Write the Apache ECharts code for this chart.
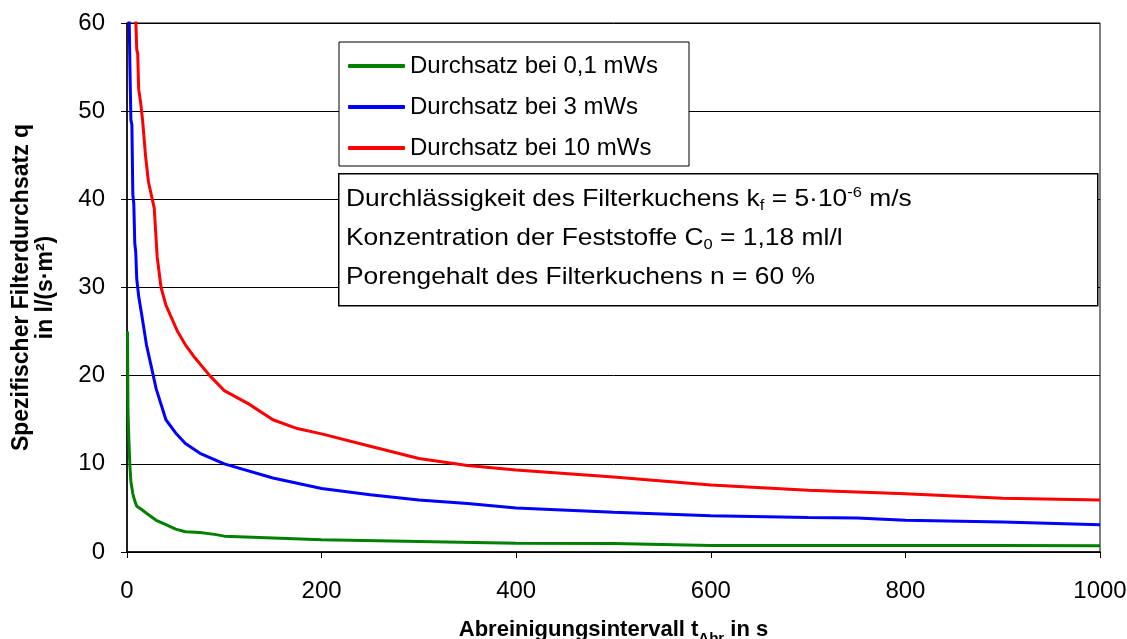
<!DOCTYPE html>
<html><head><meta charset="utf-8">
<script src="https://cdn.jsdelivr.net/npm/echarts@6/dist/echarts.min.js"></script>
<style>html,body{margin:0;padding:0;background:#fff}#c{width:1127px;height:639px}</style>
</head><body><div id="c"></div>
<script>
const seriesNames = ['Durchsatz bei 0,1 mWs', 'Durchsatz bei 3 mWs', 'Durchsatz bei 10 mWs'];
const xTicks = [0, 200, 400, 600, 800, 1000];
const yTicks = [0, 10, 20, 30, 40, 50, 60];

const greenT = [0.5, 1, 2, 3, 4, 6, 8, 10, 14, 20, 30, 40, 50, 60, 75, 90, 100, 150, 200, 300, 400, 500, 600, 700, 800, 900, 1000];
const greenQ = [25, 16, 12.5, 9.7, 8, 6.6, 5.8, 5.2, 4.9, 4.4, 3.6, 3.1, 2.6, 2.3, 2.2, 2.0, 1.8, 1.6, 1.4, 1.2, 1.0, 0.95, 0.75, 0.75, 0.75, 0.75, 0.7];

const blueT = [1, 2, 3, 4, 5, 6, 7, 8, 9, 10, 12, 15, 20, 27, 30, 40, 50, 60, 75, 100, 150, 200, 250, 300, 350, 400, 500, 600, 700, 750, 800, 900, 1000];
const blueQ = [75, 62, 55, 49, 48.5, 40.5, 39.5, 35, 34, 31, 29, 27, 23.5, 20, 18.5, 15, 13.5, 12.3, 11.2, 10, 8.4, 7.2, 6.5, 5.9, 5.5, 5.0, 4.5, 4.1, 3.9, 3.85, 3.6, 3.4, 3.1];

const redT = [5, 8, 9, 10, 11, 12, 14, 16, 19, 22, 26, 28, 31, 35, 40, 46, 52, 60, 70, 85, 100, 125, 150, 175, 200, 250, 300, 350, 400, 450, 500, 600, 700, 800, 900, 1000];
const redQ = [75, 62, 60.5, 57, 56.5, 52.5, 51, 49, 45, 42, 40, 39, 33.5, 30, 28, 26.5, 25, 23.5, 22, 20, 18.3, 16.8, 15, 14, 13.4, 12, 10.6, 9.8, 9.3, 8.9, 8.5, 7.6, 7.0, 6.6, 6.1, 5.9];

const colors = ['#008000', '#0000ff', '#ff0000'];
const pair = (t, q) => t.map((v, i) => [v, q[i]]);
const data = [pair(greenT, greenQ), pair(blueT, blueQ), pair(redT, redQ)];

const FONT = 'Liberation Sans, Arial, sans-serif';
const chart = echarts.init(document.getElementById('c'), null, {renderer: 'canvas'});
chart.setOption({
  animation: false,
  backgroundColor: '#fff',
  grid: {left: 127, right: 27, top: 23, bottom: 87, outerBoundsMode: 'none', containLabel: false,
    show: true, borderColor: '#000', borderWidth: 1, backgroundColor: 'transparent'},
  xAxis: {
    type: 'value', min: 0, max: 1000, interval: 200,
    axisLine: {lineStyle: {color: '#000', width: 1.5}},
    axisTick: {show: true, inside: false, length: 6, lineStyle: {color: '#000'}},
    axisLabel: {color: '#000', fontSize: 24, fontFamily: FONT, margin: 27,
      formatter: v => xTicks.includes(v) ? String(v) : ''},
    splitLine: {show: false},
    name: '{b|Abreinigungsintervall t}{s|Abr}{b| in s}',
    nameLocation: 'middle', nameGap: 63,
    nameTextStyle: {rich: {
      b: {fontSize: 22, fontWeight: 'bold', fontFamily: FONT, color: '#000', lineHeight: 26, verticalAlign: 'bottom'},
      s: {fontSize: 15, fontWeight: 'bold', fontFamily: FONT, color: '#000', lineHeight: 18, verticalAlign: 'bottom', padding: [0, 0, -5, 0]}
    }}
  },
  yAxis: {
    type: 'value', min: 0, max: 60, interval: 10,
    axisLine: {show: true, lineStyle: {color: '#000', width: 1.5}},
    axisTick: {show: true, inside: false, length: 6, lineStyle: {color: '#000'}},
    axisLabel: {color: '#000', fontSize: 24, fontFamily: FONT, margin: 22,
      formatter: v => yTicks.includes(v) ? String(v) : ''},
    splitLine: {show: true, lineStyle: {color: '#000', width: 1}},
    name: 'Spezifischer Filterdurchsatz q\nin l/(s·m²)',
    nameLocation: 'middle', nameGap: 69, nameRotate: 90,
    nameTextStyle: {fontSize: 23, fontWeight: 'bold', fontFamily: FONT, color: '#000', lineHeight: 24}
  },
  legend: {
    orient: 'vertical', left: 339, top: 42,
    padding: [12, 7, 6, 9], itemGap: 17,
    itemWidth: 57, itemHeight: 4,
    backgroundColor: '#fff', borderColor: '#000', borderWidth: 1,
    textStyle: {fontSize: 24, fontFamily: FONT, color: '#000', width: 272, lineHeight: 24},
    data: seriesNames.map(n => ({name: n, icon: 'roundRect'}))
  },
  series: seriesNames.map((n, i) => ({
    name: n, type: 'line', data: data[i], showSymbol: false, symbol: 'none',
    clip: true, smooth: false,
    lineStyle: {color: colors[i], width: 3}, itemStyle: {color: colors[i]}, z: 3
  })),
  graphic: [
    {type: 'rect', left: 338, top: 173, z: 100, shape: {x: 0, y: 0, width: 759, height: 132},
      style: {fill: '#fff', stroke: '#000', lineWidth: 1.5}},
    {type: 'text', left: 346, top: 185, z: 101, scaleX: 1.1, style: {
      text: '{n|Durchlässigkeit des Filterkuchens k}{sub|f}{n| = 5·10}{sup|-6}{n| m/s}\n{n|Konzentration der Feststoffe C}{sub|0}{n| = 1,18 ml/l}\n{n|Porengehalt des Filterkuchens n = 60 %}',
      rich: {
        n: {fontSize: 24, fontFamily: FONT, fill: '#000', lineHeight: 39, verticalAlign: 'middle'},
        sub: {fontSize: 15, fontFamily: FONT, fill: '#000', lineHeight: 39, verticalAlign: 'middle', padding: [13, 0, 0, 0]},
        sup: {fontSize: 15, fontFamily: FONT, fill: '#000', lineHeight: 39, verticalAlign: 'middle', padding: [0, 0, 13, 0]}
      }
    }}
  ]
});
</script></body></html>
